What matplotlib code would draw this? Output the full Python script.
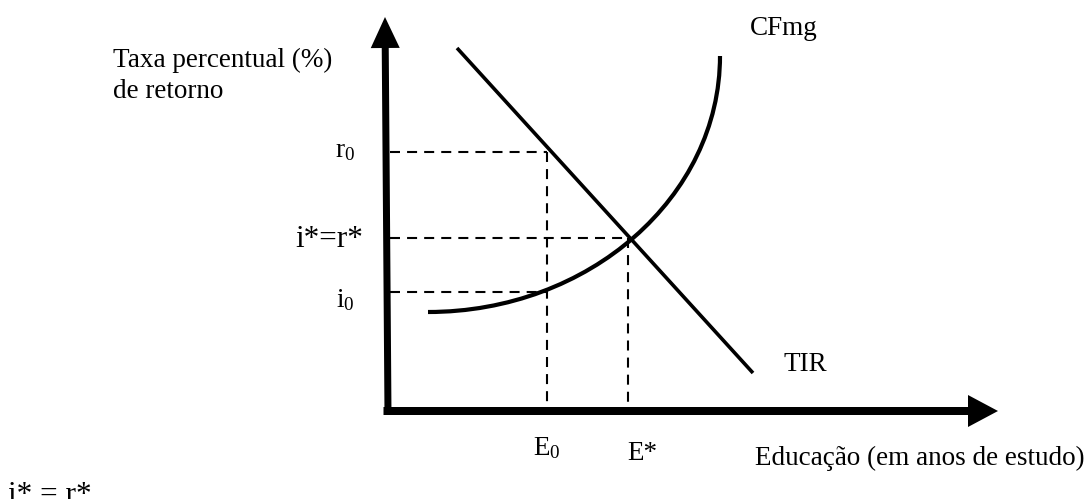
"""Education investment diagram: marginal cost of funds (CFmg) vs internal rate of return (TIR)."""

import matplotlib

matplotlib.use("Agg")
import matplotlib.pyplot as plt
from matplotlib.patches import PathPatch
from matplotlib.path import Path

plt.rcParams["font.family"] = ["Liberation Serif", "DejaVu Serif"]
plt.rcParams["mathtext.fontset"] = "custom"
plt.rcParams["mathtext.rm"] = "Liberation Serif"
plt.rcParams["mathtext.it"] = "Liberation Serif:italic"

# key levels on each axis
E0 = 15.9
E_STAR = 24.0
R0 = 25.9
I_STAR = 17.3
I0 = 11.9

# TIR: straight downward sloping line
tir_x = [6.9, 36.5]
tir_y = [36.3, 3.8]

# CFmg: smooth rising curve, start / two control points / end (cubic Bezier)
cfmg_x = [4.0, 20.1, 33.2, 33.2]
cfmg_y = [9.9, 9.9, 21.4, 35.5]

Y_TOP = 39.4
X_END = 61.0


def main() -> None:
    fig = plt.figure(figsize=(10.89, 4.99), dpi=100)
    ax = fig.add_axes([0, 0, 1, 1])
    ax.set_xlim(-38.8, 70.1)
    ax.set_ylim(-8.8, 41.1)
    ax.axis("off")

    # axes with arrow heads
    ax.arrow(0.0, -0.35, -0.3, Y_TOP + 0.35, width=0.7, head_width=2.9, head_length=3.1,
             length_includes_head=True, color="black", lw=0)
    ax.arrow(-0.45, 0.0, X_END + 0.45, 0.0, width=0.8, head_width=3.2, head_length=3.0,
             length_includes_head=True, color="black", lw=0)

    dash = dict(color="black", lw=1.5, linestyle=(0, (4.8, 3.4)))
    ax.plot([0.2, E0], [R0, R0], **dash)
    ax.plot([E0, E0], [R0, 0.3], **dash)
    ax.plot([0.2, E_STAR], [I_STAR, I_STAR], **dash)
    ax.plot([E_STAR, E_STAR], [I_STAR, 0.3], **dash)
    ax.plot([0.2, E0], [I0, I0], **dash)

    ax.plot(tir_x, tir_y, color="black", lw=2.6, solid_capstyle="butt")
    curve = Path(list(zip(cfmg_x, cfmg_y)),
                 [Path.MOVETO, Path.CURVE4, Path.CURVE4, Path.CURVE4])
    ax.add_patch(PathPatch(curve, facecolor="none", edgecolor="black", lw=3.0,
                           capstyle="butt"))

    fs = 19.5
    ax.text(-27.5, 34.4, "Taxa percentual (%)", fontsize=fs, va="baseline")
    ax.text(-27.5, 31.3, "de retorno", fontsize=fs, va="baseline")
    ax.text(-3.3, 25.4, r"r$_{\mathrm{0}}$", fontsize=fs, va="baseline", ha="right")
    ax.text(-2.5, 16.4, "i*=r*", fontsize=22.5, va="baseline", ha="right")
    ax.text(-3.3, 10.4, r"i$_{\mathrm{0}}$", fontsize=fs, va="baseline", ha="right")
    ax.text(14.5, -4.4, r"E$_{\mathrm{0}}$", fontsize=fs, va="baseline")
    ax.text(23.9, -4.9, "E*", fontsize=fs, va="baseline")
    ax.text(36.2, 37.6, "CFmg", fontsize=fs, va="baseline")
    ax.text(39.5, 4.0, "TIR", fontsize=fs, va="baseline")
    ax.text(36.7, -5.4, "Educação (em anos de estudo)", fontsize=fs, va="baseline")
    ax.text(-38.0, -9.2, "i* = r*", fontsize=22.5, va="baseline")

    fig.savefig("out.png", dpi=100)


if __name__ == "__main__":
    main()
